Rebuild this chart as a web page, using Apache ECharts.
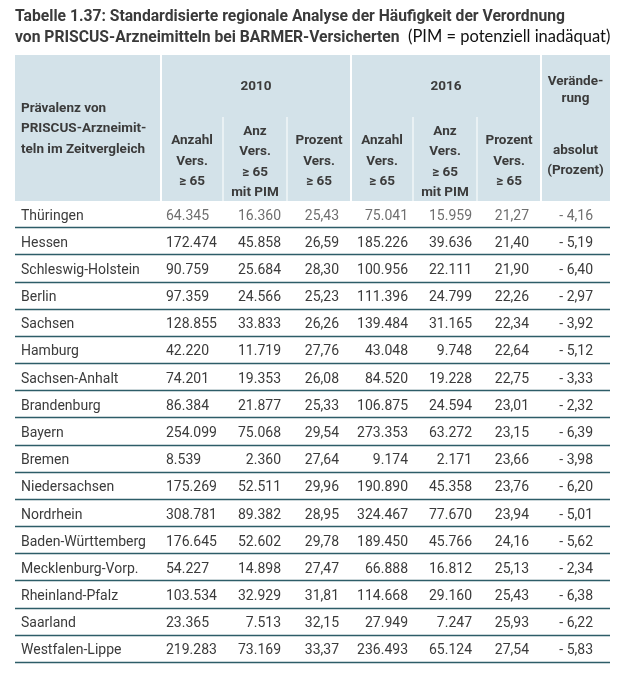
<!DOCTYPE html>
<html>
<head>
<meta charset="utf-8">
<script src="https://cdn.jsdelivr.net/npm/echarts@6/dist/echarts.min.js"></script>
<style>
  html, body { margin: 0; padding: 0; background: #fff; }
  #chart { width: 625px; height: 684px; }
</style>
</head>
<body>
<div id="chart"></div>
<script>
// Daten aus Tabelle 1.37
const regions = ['Thüringen', 'Hessen', 'Schleswig-Holstein', 'Berlin', 'Sachsen', 'Hamburg',
  'Sachsen-Anhalt', 'Brandenburg', 'Bayern', 'Bremen', 'Niedersachsen', 'Nordrhein',
  'Baden-Württemberg', 'Mecklenburg-Vorp.', 'Rheinland-Pfalz', 'Saarland', 'Westfalen-Lippe']
const anzahl2010 = [64345, 172474, 90759, 97359, 128855, 42220, 74201, 86384, 254099, 8539,
  175269, 308781, 176645, 54227, 103534, 23365, 219283]
const pim2010 = [16360, 45858, 25684, 24566, 33833, 11719, 19353, 21877, 75068, 2360,
  52511, 89382, 52602, 14898, 32929, 7513, 73169]
const prozent2010 = [25.43, 26.59, 28.30, 25.23, 26.26, 27.76, 26.08, 25.33, 29.54, 27.64,
  29.96, 28.95, 29.78, 27.47, 31.81, 32.15, 33.37]
const anzahl2016 = [75041, 185226, 100956, 111396, 139484, 43048, 84520, 106875, 273353, 9174,
  190890, 324467, 189450, 66888, 114668, 27949, 236493]
const pim2016 = [15959, 39636, 22111, 24799, 31165, 9748, 19228, 24594, 63272, 2171,
  45358, 77670, 45766, 16812, 29160, 7247, 65124]
const prozent2016 = [21.27, 21.40, 21.90, 22.26, 22.34, 22.64, 22.75, 23.01, 23.15, 23.66,
  23.76, 23.94, 24.16, 25.13, 25.43, 25.93, 27.54]
const veraenderung = [-4.16, -5.19, -6.40, -2.97, -3.92, -5.12, -3.33, -2.32, -6.39, -3.98,
  -6.20, -5.01, -5.62, -2.34, -6.38, -6.22, -5.83]

// Spaltenlayout (Einheiten der x-Achse = Pixel ab linkem Tabellenrand)
const colEdges = [0, 146, 208, 272, 336, 398, 462, 526, 595]
const colAnchor = [6, 151, 266, 324, 393, 457, 514, 578]
const colAlign = ['left', 'left', 'right', 'right', 'right', 'right', 'right', 'right']

const TABLE_LEFT = 15
const HEADER_TOP = 55
const HEADER_BOTTOM = 201
const BODY_FONT = 'Roboto, "Open Sans", sans-serif'
const HEAD_FONT = 'Roboto, "Open Sans", sans-serif'
const TITLE_FONT = 'bold 16px Roboto, "Open Sans", sans-serif'
const TEXT_COLOR = '#3b3b3b'
const LINE_COLOR = '#2d5d68'
const HEAD_BG = '#d3e2e9'

const fmtInt = v => v.toLocaleString('de-DE')
const fmtDec = v => v.toLocaleString('de-DE', { minimumFractionDigits: 2, maximumFractionDigits: 2 })
const fmtDiff = v => (v < 0 ? '- ' : '+ ') + fmtDec(Math.abs(v))

const cellText = regions.map((name, i) => [
  name,
  fmtInt(anzahl2010[i]), fmtInt(pim2010[i]), fmtDec(prozent2010[i]),
  fmtInt(anzahl2016[i]), fmtInt(pim2016[i]), fmtDec(prozent2016[i]),
  fmtDiff(veraenderung[i])
])

const cellData = []
regions.forEach((_, r) => {
  for (let c = 0; c < 8; c++) cellData.push([c, r])
})

const chart = echarts.init(document.getElementById('chart'))

// Kopfzeile
const headGraphics = []
headGraphics.push({
  type: 'rect',
  shape: { x: TABLE_LEFT, y: HEADER_TOP, width: colEdges[8], height: HEADER_BOTTOM - HEADER_TOP },
  style: { fill: HEAD_BG }
})
// weiße Trennlinien
;[1, 4, 7].forEach(i => headGraphics.push({
  type: 'rect',
  shape: { x: TABLE_LEFT + colEdges[i] - 1, y: HEADER_TOP, width: 2, height: HEADER_BOTTOM - HEADER_TOP },
  style: { fill: '#fff' }
}))
;[2, 3, 5, 6].forEach(i => headGraphics.push({
  type: 'rect',
  shape: { x: TABLE_LEFT + colEdges[i] - 0.5, y: 117, width: 1, height: HEADER_BOTTOM - 117 },
  style: { fill: '#fff' }
}))

const headText = (text, x, y, align, lineHeight) => ({
  type: 'text',
  x: x, y: y,
  style: {
    text: text,
    font: 'bold 13.5px ' + HEAD_FONT,
    fill: TEXT_COLOR,
    align: align,
    verticalAlign: 'middle',
    lineHeight: lineHeight || 20.5
  }
})
const colCenter = i => TABLE_LEFT + (colEdges[i] + colEdges[i + 1]) / 2

headGraphics.push(headText('Prävalenz von\nPRISCUS-Arzneimit-\nteln im Zeitvergleich', TABLE_LEFT + 6, 129, 'left'))
headGraphics.push(headText('2010', TABLE_LEFT + (colEdges[1] + colEdges[4]) / 2, 87, 'center'))
headGraphics.push(headText('2016', TABLE_LEFT + (colEdges[4] + colEdges[7]) / 2, 87, 'center'))
headGraphics.push(headText('Verände-\nrung', colCenter(7), 90, 'center', 17))
headGraphics.push(headText('absolut\n(Prozent)', colCenter(7), 160.5, 'center', 20))
;[1, 4].forEach(i => {
  headGraphics.push(headText('Anzahl\nVers.\n≥ 65', colCenter(i), 161.5, 'center'))
  headGraphics.push(headText('Anz\nVers.\n≥ 65\nmit PIM', colCenter(i + 1), 162, 'center'))
  headGraphics.push(headText('Prozent\nVers.\n≥ 65', colCenter(i + 2), 161.5, 'center'))
})

// Titel
headGraphics.push({
  type: 'text', x: 15, y: 17, scaleX: 0.98,
  style: {
    text: 'Tabelle 1.37: Standardisierte regionale Analyse der Häufigkeit der Verordnung',
    font: TITLE_FONT, fill: '#3a3a3a', verticalAlign: 'middle'
  }
})
headGraphics.push({
  type: 'text', x: 15, y: 38, scaleX: 0.98,
  style: {
    text: 'von PRISCUS-Arzneimitteln bei BARMER-Versicherten',
    font: TITLE_FONT, fill: '#3a3a3a', verticalAlign: 'middle'
  }
})
headGraphics.push({
  type: 'text', x: 408, y: 37,
  style: {
    text: '(PIM = potenziell inadäquat)',
    font: '16.5px Lato, "Liberation Sans", sans-serif', fill: '#111', verticalAlign: 'middle'
  }
})

const option = {
  animation: false,
  grid: { left: TABLE_LEFT, right: 625 - TABLE_LEFT - colEdges[8], top: HEADER_BOTTOM, bottom: 21 },
  xAxis: { type: 'value', min: 0, max: colEdges[8], show: false },
  yAxis: { type: 'category', data: regions, inverse: true, show: false },
  graphic: headGraphics,
  series: [
    {
      // Trennlinien unter jeder Zeile
      type: 'custom',
      data: regions.map((_, r) => [0, r]),
      renderItem: (params, api) => {
        const r = api.value(1)
        const h = api.size([0, 1])[1]
        const p0 = api.coord([colEdges[0], r])
        const p1 = api.coord([colEdges[8], r])
        const y = Math.round(p0[1] + h / 2) - 0.5
        return {
          type: 'line',
          shape: { x1: p0[0], y1: y, x2: p1[0], y2: y },
          style: { stroke: LINE_COLOR, lineWidth: 1.3 }
        }
      }
    },
    {
      // Zelltexte
      type: 'custom',
      data: cellData,
      renderItem: (params, api) => {
        const c = api.value(0)
        const r = api.value(1)
        const p = api.coord([colAnchor[c], r])
        const faded = r === 0 && c > 0
        return {
          type: 'text',
          x: p[0], y: p[1] + 1.5,
          style: {
            text: cellText[r][c],
            font: '14px ' + BODY_FONT,
            fill: faded ? '#6f6f6f' : TEXT_COLOR,
            align: colAlign[c],
            verticalAlign: 'middle'
          }
        }
      }
    }
  ]
}
chart.setOption(option)
window.addEventListener('resize', () => chart.resize())
</script>
</body>
</html>
